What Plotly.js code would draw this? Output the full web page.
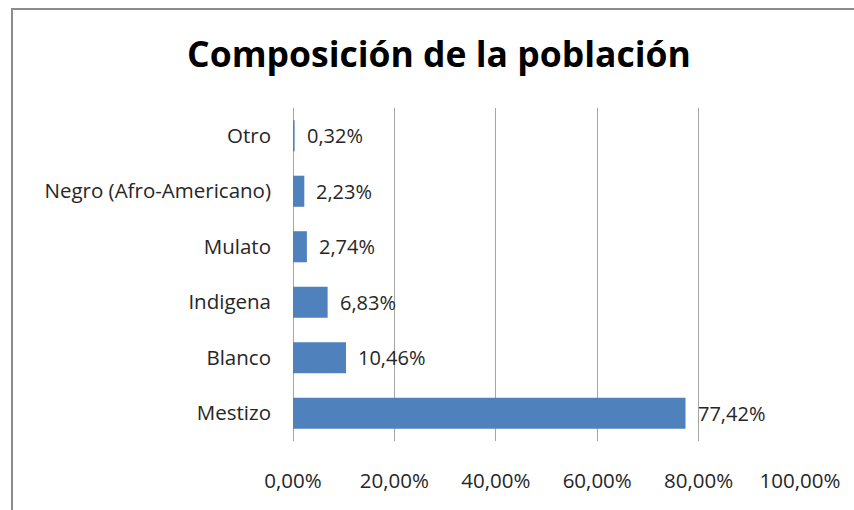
<!DOCTYPE html>
<html>
<head>
<meta charset="utf-8">
<script src="https://cdn.plot.ly/plotly-3.0.1.min.js"></script>
<style>
  html, body { margin: 0; padding: 0; background: #fff; overflow: hidden; }
  #wrap { position: relative; width: 854px; height: 510px; overflow: hidden; }
  #frame { position: absolute; left: 11px; top: 8px; width: 1000px; height: 1000px;
           border: 2px solid #8c8c8c; box-sizing: border-box; pointer-events: none; }
  #chart { position: absolute; left: 0; top: 0; width: 854px; height: 510px; }
</style>
</head>
<body>
<div id="wrap">
  <div id="chart"></div>
  <div id="frame"></div>
</div>
<script>
const categories = ["Mestizo", "Blanco", "Indigena", "Mulato", "Negro (Afro-Americano)", "Otro"];
const values = [77.42, 10.46, 6.83, 2.74, 2.23, 0.32];
const valueLabels = ["77,42%", "10,46%", "6,83%", "2,74%", "2,23%", "0,32%"];
const tickValues = [0, 20, 40, 60, 80, 100];
const tickLabels = ["0,00%", "20,00%", "40,00%", "60,00%", "80,00%", "100,00%"];

const font = "Open Sans, Noto Sans, sans-serif";

const trace = {
  type: "bar",
  orientation: "h",
  x: values,
  y: categories,
  marker: { color: "#4F81BD" },
  hoverinfo: "skip"
};

const annotations = categories.map((c, i) => ({
  x: values[i], y: c, xref: "x", yref: "y",
  text: valueLabels[i], showarrow: false,
  xanchor: "left", xshift: 10,
  font: { family: font, size: 20, color: "#262626" }
}));

const layout = {
  width: 854, height: 510,
  margin: { l: 293, r: 54, t: 108, b: 69, pad: 0 },
  paper_bgcolor: "rgba(0,0,0,0)",
  plot_bgcolor: "#ffffff",
  showlegend: false,
  bargap: 0.44,
  title: {
    text: "<b>Composición de la población</b>",
    font: { family: font, size: 35.5, color: "#000000" },
    x: 0.514, xanchor: "center", y: 0.893, yanchor: "middle"
  },
  xaxis: {
    range: [0, 100],
    tickvals: tickValues,
    ticktext: tickLabels,
    showgrid: true, gridcolor: "#a6a6a6", gridwidth: 1,
    zeroline: true, zerolinecolor: "#a6a6a6", zerolinewidth: 1,
    showline: false, ticks: "",
    ticklabelstandoff: 25,
    tickfont: { family: font, size: 20.5, color: "#262626" },
    fixedrange: true
  },
  yaxis: {
    categoryorder: "array", categoryarray: categories,
    range: [-0.5, 5.5],
    showgrid: false, zeroline: false, showline: false, ticks: "",
    ticklabelstandoff: 21,
    tickfont: { family: font, size: 20.5, color: "#262626" },
    fixedrange: true
  },
  annotations: annotations
};

Plotly.newPlot("chart", [trace], layout, { displayModeBar: false, staticPlot: true });
</script>
</body>
</html>
